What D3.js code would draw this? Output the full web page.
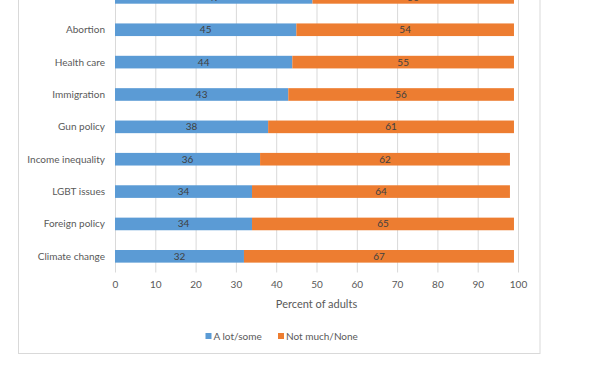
<!DOCTYPE html>
<html>
<head>
<meta charset="utf-8">
<script src="https://cdn.jsdelivr.net/npm/d3@7"></script>
<style>
  body { margin: 0; background: #fff; }
  text { font-family: Lato, "Open Sans", sans-serif; }
</style>
</head>
<body>
<div id="vis"></div>
<script>
// data (top row is cut off in the picture)
var topics = ["Economy", "Abortion", "Health care", "Immigration", "Gun policy",
              "Income inequality", "LGBT issues", "Foreign policy", "Climate change"];
var aLot   = [49, 45, 44, 43, 38, 36, 34, 34, 32];
var notMuch = [50, 54, 55, 56, 61, 62, 64, 65, 67];
var seriesNames = ["A lot/some", "Not much/None"];
var ticks = [0, 10, 20, 30, 40, 50, 60, 70, 80, 90, 100];

var W = 612, H = 374;
var colors = ["#5B9BD5", "#ED7D31"];

var svg = d3.select("#vis").append("svg")
  .attr("width", W)
  .attr("height", H);

// chart frame
svg.append("rect")
  .attr("x", 18.5).attr("y", -20)
  .attr("width", 521.5).attr("height", 373.5)
  .attr("fill", "#fff")
  .attr("stroke", "#d9d9d9")
  .attr("stroke-width", 1);

var x = d3.scaleLinear().domain([0, 100]).range([115, 518]);
var y = d3.scaleBand().domain(topics).range([-18.8, 272.5]).paddingInner(0.61).paddingOuter(0.305);

// gridlines
svg.append("g").selectAll("line")
  .data(ticks)
  .enter().append("line")
  .attr("x1", function(d){ return x(d) + 0.5 })
  .attr("x2", function(d){ return x(d) + 0.5 })
  .attr("y1", -20)
  .attr("y2", 272.5)
  .attr("stroke", "#d9d9d9")
  .attr("stroke-width", 1);

// rows
var rows = topics.map(function(t, i){
  return { topic: t, segs: [
    { s: 0, x0: 0, v: aLot[i] },
    { s: 1, x0: aLot[i], v: notMuch[i] }
  ]};
});

var g = svg.append("g").selectAll("g")
  .data(rows)
  .enter().append("g");

g.selectAll("rect")
  .data(function(d){ return d.segs })
  .enter().append("rect")
  .attr("x", function(d){ return x(d.x0) })
  .attr("width", function(d){ return x(d.x0 + d.v) - x(d.x0) })
  .attr("y", function(){ return y(d3.select(this.parentNode).datum().topic) })
  .attr("height", y.bandwidth())
  .attr("fill", function(d){ return colors[d.s] });

g.selectAll("text.val")
  .data(function(d){ return d.segs })
  .enter().append("text")
  .attr("class", "val")
  .attr("x", function(d){ return x(d.x0 + d.v / 2) })
  .attr("y", function(){ return y(d3.select(this.parentNode).datum().topic) + y.bandwidth() / 2 })
  .attr("dy", "0.35em")
  .attr("text-anchor", "middle")
  .attr("font-size", 10)
  .attr("fill", "#404040")
  .text(function(d){ return d.v });

// category labels (the top one sits above the visible area)
svg.append("g").selectAll("text")
  .data(topics.filter(function(d){ return y(d) + y.bandwidth() / 2 > 5 }))
  .enter().append("text")
  .attr("x", 105)
  .attr("y", function(d){ return y(d) + y.bandwidth() / 2 })
  .attr("dy", "0.35em")
  .attr("text-anchor", "end")
  .attr("font-size", 10)
  .attr("fill", "#595959")
  .text(function(d){ return d });

// x axis
var ax = svg.append("g")
  .attr("transform", "translate(0,281)")
  .call(d3.axisBottom(x).tickValues(ticks).tickSize(0).tickPadding(0));
ax.select(".domain").remove();
ax.selectAll("text")
  .attr("font-size", 10)
  .attr("fill", "#595959")
  .attr("dy", "0.71em")
  .style("font-family", "Lato, 'Open Sans', sans-serif");

svg.append("text")
  .attr("x", (x(0) + x(100)) / 2)
  .attr("y", 304)
  .attr("dy", "0.35em")
  .attr("text-anchor", "middle")
  .attr("font-size", 11)
  .attr("fill", "#595959")
  .text("Percent of adults");

// legend
var legX = [205.5, 278];
var lg = svg.append("g").selectAll("g")
  .data(seriesNames)
  .enter().append("g")
  .attr("transform", function(d, i){ return "translate(" + legX[i] + ",336)" });
lg.append("rect")
  .attr("x", 0).attr("y", -3)
  .attr("width", 6).attr("height", 6)
  .attr("fill", function(d, i){ return colors[i] });
lg.append("text")
  .attr("x", 8)
  .attr("dy", "0.35em")
  .attr("font-size", 10)
  .attr("fill", "#595959")
  .text(function(d){ return d });
</script>
</body>
</html>
